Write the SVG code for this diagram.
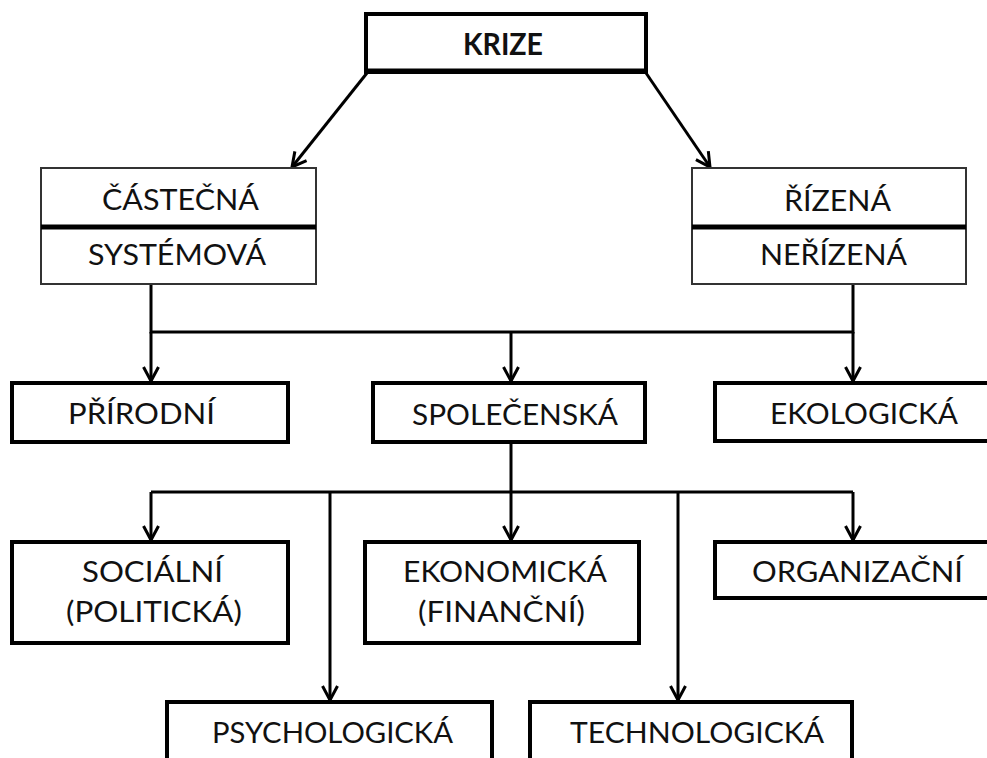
<svg xmlns="http://www.w3.org/2000/svg" width="987" height="758" viewBox="0 0 987 758">
  <style>
    .box { fill: #fff; stroke: #000; stroke-width: 4; }
    .thin { fill: #fff; stroke: #333; stroke-width: 2; }
    .lbl { font-family: Lato, "Liberation Sans", sans-serif; font-size: 29.5px; fill: #111; text-anchor: middle; }
    .bold { font-weight: bold; }
    .wire { fill: none; stroke: #000; stroke-width: 3; }
  </style>
  <defs>
    <marker id="arr" markerUnits="userSpaceOnUse" markerWidth="24" markerHeight="24" viewBox="-18 -12 20 24" refX="0" refY="0" orient="auto">
      <path d="M-14,-7.5 L0,0 L-14,7.5" fill="none" stroke="#000" stroke-width="3"/>
    </marker>
  </defs>

  <g id="connectors">
    <!-- KRIZE to the two split boxes -->
    <line class="wire" x1="367" y1="73" x2="292" y2="167" marker-end="url(#arr)"/>
    <line class="wire" x1="646" y1="73" x2="710" y2="167" marker-end="url(#arr)"/>
    <!-- split boxes to second row -->
    <polyline class="wire" points="151,284 151,332 853,332 853,284"/>
    <line class="wire" x1="151" y1="332" x2="151" y2="381" marker-end="url(#arr)"/>
    <line class="wire" x1="511" y1="332" x2="511" y2="381" marker-end="url(#arr)"/>
    <line class="wire" x1="853" y1="332" x2="853" y2="381" marker-end="url(#arr)"/>
    <!-- SPOLEČENSKÁ to its branches -->
    <line class="wire" x1="511" y1="443" x2="511" y2="492"/>
    <line class="wire" x1="151" y1="492" x2="853" y2="492"/>
    <line class="wire" x1="151" y1="492" x2="151" y2="540" marker-end="url(#arr)"/>
    <line class="wire" x1="511" y1="492" x2="511" y2="540" marker-end="url(#arr)"/>
    <line class="wire" x1="853" y1="492" x2="853" y2="540" marker-end="url(#arr)"/>
    <line class="wire" x1="330" y1="492" x2="330" y2="700" marker-end="url(#arr)"/>
    <line class="wire" x1="678" y1="492" x2="678" y2="700" marker-end="url(#arr)"/>
  </g>

  <g id="krize">
    <rect class="box" x="366" y="14" width="280" height="58"/>
    <line x1="366" y1="71" x2="646" y2="71" stroke="#000" stroke-width="5"/>
    <text class="lbl bold" x="503" y="55" textLength="80" lengthAdjust="spacingAndGlyphs">KRIZE</text>
  </g>

  <g id="castecna-systemova">
    <rect class="thin" x="41" y="168" width="275" height="116"/>
    <line x1="41" y1="227" x2="316" y2="227" stroke="#000" stroke-width="5"/>
    <text class="lbl" x="180.5" y="210" textLength="157" lengthAdjust="spacingAndGlyphs">ČÁSTEČNÁ</text>
    <text class="lbl" x="177" y="265" textLength="178" lengthAdjust="spacingAndGlyphs">SYSTÉMOVÁ</text>
  </g>

  <g id="rizena-nerizena">
    <rect class="thin" x="692" y="168" width="274" height="116"/>
    <line x1="692" y1="227" x2="966" y2="227" stroke="#000" stroke-width="5"/>
    <text class="lbl" x="837.5" y="211" textLength="107" lengthAdjust="spacingAndGlyphs">ŘÍZENÁ</text>
    <text class="lbl" x="833.5" y="265" textLength="147" lengthAdjust="spacingAndGlyphs">NEŘÍZENÁ</text>
  </g>

  <g id="prirodni">
    <rect class="box" x="12" y="383" width="276" height="59"/>
    <text class="lbl" x="141.5" y="424" textLength="147" lengthAdjust="spacingAndGlyphs">PŘÍRODNÍ</text>
  </g>

  <g id="spolecenska">
    <rect class="box" x="373" y="383" width="272" height="59"/>
    <text class="lbl" x="515" y="425" textLength="206" lengthAdjust="spacingAndGlyphs">SPOLEČENSKÁ</text>
  </g>

  <g id="ekologicka">
    <rect class="box" x="715" y="383" width="275" height="58"/>
    <text class="lbl" x="864" y="424" textLength="188" lengthAdjust="spacingAndGlyphs">EKOLOGICKÁ</text>
  </g>

  <g id="socialni">
    <rect class="box" x="12" y="542" width="276" height="101"/>
    <text class="lbl" x="152.5" y="582" textLength="141" lengthAdjust="spacingAndGlyphs">SOCIÁLNÍ</text>
    <text class="lbl" x="154" y="622" textLength="176" lengthAdjust="spacingAndGlyphs">(POLITICKÁ)</text>
  </g>

  <g id="ekonomicka">
    <rect class="box" x="365" y="542" width="274" height="101"/>
    <text class="lbl" x="505" y="582" textLength="204" lengthAdjust="spacingAndGlyphs">EKONOMICKÁ</text>
    <text class="lbl" x="501.5" y="622" textLength="167" lengthAdjust="spacingAndGlyphs">(FINANČNÍ)</text>
  </g>

  <g id="organizacni">
    <rect class="box" x="715" y="542" width="275" height="56"/>
    <text class="lbl" x="857.5" y="582" textLength="211" lengthAdjust="spacingAndGlyphs">ORGANIZAČNÍ</text>
  </g>

  <g id="psychologicka">
    <rect class="box" x="167" y="702" width="325" height="70"/>
    <text class="lbl" x="332.5" y="743" textLength="241" lengthAdjust="spacingAndGlyphs">PSYCHOLOGICKÁ</text>
  </g>

  <g id="technologicka">
    <rect class="box" x="530" y="702" width="322" height="70"/>
    <text class="lbl" x="697" y="743" textLength="254" lengthAdjust="spacingAndGlyphs">TECHNOLOGICKÁ</text>
  </g>
</svg>
